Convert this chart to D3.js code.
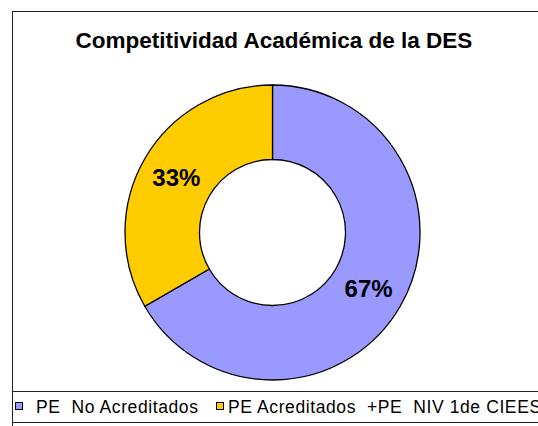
<!DOCTYPE html>
<html lang="es">
<head>
<meta charset="utf-8">
<script src="https://d3js.org/d3.v7.min.js"></script>
<style>
  body { margin: 0; background: #fff; }
  text { font-family: "Liberation Sans", Arial, sans-serif; }
</style>
</head>
<body>
<svg id="chart" width="538" height="426"></svg>
<script>
// data
var categories = ["PE  No Acreditados", "PE Acreditados  +PE  NIV 1de CIEES"];
var values = [2, 1];
var colours = ["#9999FF", "#FFCC00"];
var title = "Competitividad Académica de la DES";

var svg = d3.select("#chart");

// outer chart frame (runs off the right edge like the original)
svg.append("rect")
  .attr("x", 12.5).attr("y", 11.5)
  .attr("width", 560).attr("height", 440)
  .attr("fill", "#fff")
  .attr("stroke", "#222").attr("stroke-width", 1);

svg.append("text")
  .attr("x", 274).attr("y", 48)
  .attr("text-anchor", "middle")
  .attr("font-size", "22.5px")
  .attr("font-weight", "bold")
  .text(title);

var cx = 272.5, cy = 232.5;
var outerR = 147.5, innerR = 73;

var pie = d3.pie().sort(null).value(function(d) { return d; });
var arcs = pie(values);
var arc = d3.arc().innerRadius(innerR).outerRadius(outerR);
var total = d3.sum(values);

var g = svg.append("g").attr("transform", "translate(" + cx + "," + cy + ")");

g.selectAll("path")
  .data(arcs)
  .enter().append("path")
  .attr("d", arc)
  .attr("fill", function(d, i) { return colours[i]; })
  .attr("stroke", "#000")
  .attr("stroke-width", 1.3);

// percentage labels
var labelArc = d3.arc().innerRadius(111).outerRadius(111);
g.selectAll(".lbl")
  .data(arcs)
  .enter().append("text")
  .attr("class", "lbl")
  .attr("transform", function(d) {
    var c = labelArc.centroid(d);
    return "translate(" + c[0] + "," + c[1] + ")";
  })
  .attr("text-anchor", "middle")
  .attr("dy", "0.36em")
  .attr("font-size", "24px")
  .attr("font-weight", "bold")
  .text(function(d) { return Math.round(d.data / total * 100) + "%"; });

// legend box
svg.append("rect")
  .attr("x", 12.5).attr("y", 391.5)
  .attr("width", 560).attr("height", 31)
  .attr("fill", "#fff")
  .attr("stroke", "#222").attr("stroke-width", 1);

var swatchX = [15, 216];
var textX = [36, 228];

var legend = svg.selectAll(".leg")
  .data(categories)
  .enter().append("g")
  .attr("class", "leg");

legend.append("rect")
  .attr("x", function(d, i) { return swatchX[i] + 0.5; })
  .attr("y", 402.5)
  .attr("width", 7).attr("height", 7)
  .attr("fill", function(d, i) { return colours[i]; })
  .attr("stroke", "#000");

legend.append("text")
  .attr("x", function(d, i) { return textX[i]; })
  .attr("y", 413)
  .attr("font-size", "17.5px")
  .attr("letter-spacing", "0.6px")
  .style("white-space", "pre")
  .text(function(d) { return d; });
</script>
</body>
</html>
